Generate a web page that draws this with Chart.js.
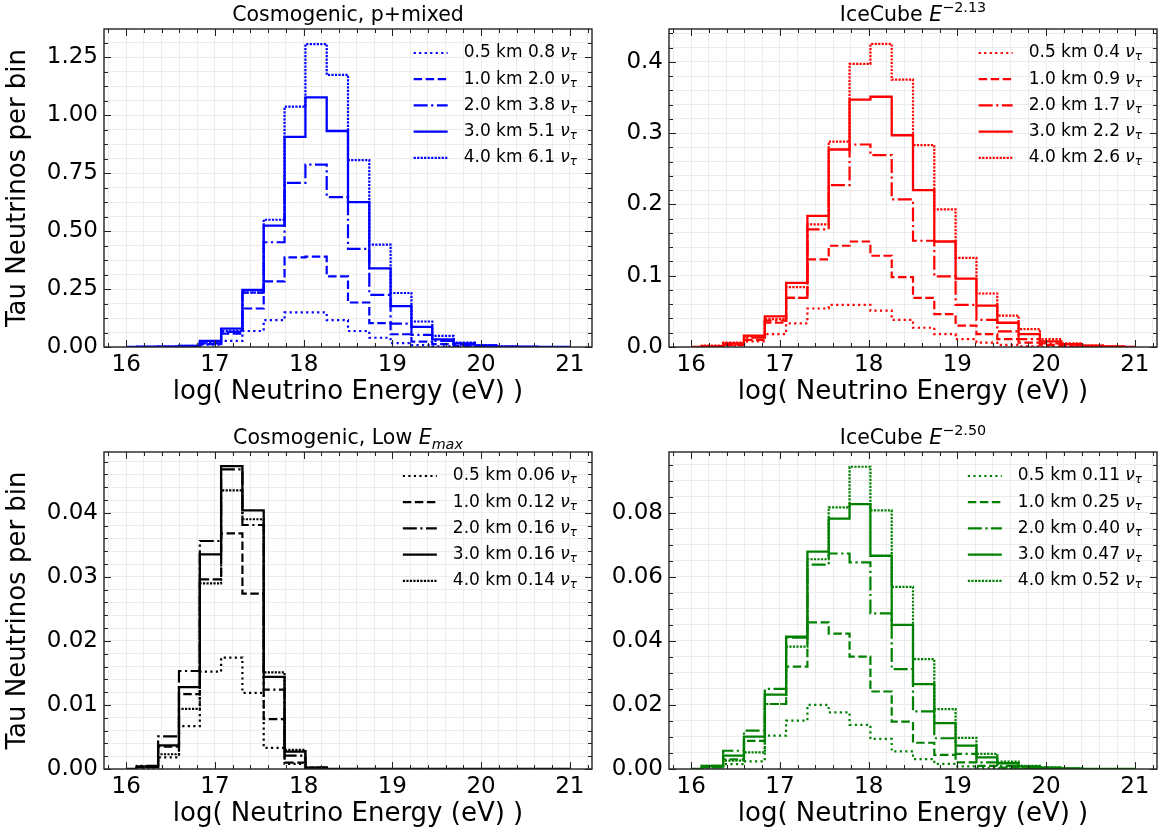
<!DOCTYPE html>
<html>
<head>
<meta charset="utf-8">
<script src="https://cdn.jsdelivr.net/npm/chart.js@4.4.1/dist/chart.umd.min.js"></script>
<style>
  html, body { margin: 0; padding: 0; background: #fff; }
  #fig { position: relative; width: 1162px; height: 835px; overflow: hidden; }
  canvas { position: absolute; }
</style>
</head>
<body>
<div id="fig">
  <canvas id="tl" width="600" height="418" style="left:0;top:0"></canvas>
  <canvas id="tr" width="562" height="418" style="left:600px;top:0"></canvas>
  <canvas id="bl" width="600" height="412" style="left:0;top:423px"></canvas>
  <canvas id="br" width="562" height="412" style="left:600px;top:423px"></canvas>
</div>
<script>
// bin centres, log10(E / eV)
const logE = [16.00, 16.24, 16.48, 16.71, 16.95, 17.19, 17.43, 17.67, 17.90, 18.14, 18.38,
              18.62, 18.86, 19.10, 19.33, 19.57, 19.81, 20.05, 20.29, 20.52, 20.76, 21.00];
const xTicks = [16, 17, 18, 19, 20, 21];
const depths = ["0.5 km", "1.0 km", "2.0 km", "3.0 km", "4.0 km"];

// Cosmogenic, p+mixed
const pmixed05 = [0, 0, 0, 0.002, 0.01, 0.026, 0.069, 0.116, 0.149, 0.149, 0.116, 0.069, 0.04, 0.017, 0.008, 0.003, 0.001, 0, 0, 0, 0, 0];
const pmixed10 = [0, 0, 0.001, 0.003, 0.012, 0.058, 0.166, 0.283, 0.387, 0.39, 0.305, 0.192, 0.103, 0.055, 0.023, 0.012, 0.005, 0.002, 0, 0, 0, 0];
const pmixed20 = [0, 0, 0.001, 0.004, 0.016, 0.065, 0.235, 0.452, 0.708, 0.787, 0.647, 0.423, 0.225, 0.101, 0.052, 0.026, 0.01, 0.004, 0.001, 0, 0, 0];
const pmixed30 = [0, 0.001, 0.002, 0.005, 0.026, 0.079, 0.246, 0.524, 0.907, 1.077, 0.932, 0.625, 0.339, 0.176, 0.087, 0.033, 0.016, 0.007, 0.002, 0.001, 0, 0];
const pmixed40 = [0, 0.001, 0.002, 0.005, 0.02, 0.069, 0.235, 0.549, 1.037, 1.307, 1.174, 0.806, 0.442, 0.233, 0.11, 0.048, 0.019, 0.008, 0.003, 0.001, 0, 0];
const pmixedTotals = ["0.8", "2.0", "3.8", "5.1", "6.1"];
const pmixedTicks = [0, 0.25, 0.5, 0.75, 1.0, 1.25];
const pmixedTickLabels = ["0.00", "0.25", "0.50", "0.75", "1.00", "1.25"];

// IceCube E^-2.13
const ic213_05 = [0, 0, 0.002, 0.008, 0.018, 0.033, 0.054, 0.059, 0.059, 0.051, 0.038, 0.027, 0.018, 0.011, 0.006, 0.003, 0.001, 0, 0, 0, 0, 0];
const ic213_10 = [0, 0.001, 0.003, 0.01, 0.034, 0.069, 0.123, 0.142, 0.148, 0.128, 0.098, 0.069, 0.046, 0.03, 0.018, 0.011, 0.006, 0.003, 0.001, 0, 0, 0];
const ic213_20 = [0, 0.001, 0.004, 0.013, 0.037, 0.069, 0.165, 0.227, 0.284, 0.269, 0.207, 0.149, 0.099, 0.059, 0.038, 0.022, 0.011, 0.005, 0.002, 0.001, 0, 0];
const ic213_30 = [0, 0.001, 0.005, 0.016, 0.043, 0.09, 0.184, 0.277, 0.347, 0.351, 0.297, 0.22, 0.148, 0.096, 0.058, 0.034, 0.018, 0.008, 0.004, 0.002, 0.001, 0];
const ic213_40 = [0, 0.002, 0.006, 0.015, 0.039, 0.084, 0.172, 0.288, 0.397, 0.425, 0.375, 0.283, 0.193, 0.125, 0.075, 0.044, 0.025, 0.011, 0.005, 0.002, 0.001, 0];
const ic213Totals = ["0.4", "0.9", "1.7", "2.2", "2.6"];
const ic213Ticks = [0, 0.1, 0.2, 0.3, 0.4];
const ic213TickLabels = ["0.0", "0.1", "0.2", "0.3", "0.4"];

// Cosmogenic, Low Emax
const lowE05 = [0, 0.0002, 0.0018, 0.0067, 0.0152, 0.0174, 0.0119, 0.0033, 0.0008, 0.0001, 0, 0, 0, 0, 0, 0, 0, 0, 0, 0, 0, 0];
const lowE10 = [0, 0.0003, 0.0035, 0.0117, 0.0296, 0.0368, 0.0274, 0.0078, 0.001, 0.0001, 0, 0, 0, 0, 0, 0, 0, 0, 0, 0, 0, 0];
const lowE20 = [0, 0.0005, 0.0051, 0.0153, 0.0356, 0.0468, 0.0381, 0.0124, 0.0021, 0.0002, 0, 0, 0, 0, 0, 0, 0, 0, 0, 0, 0, 0];
const lowE30 = [0, 0.0004, 0.0037, 0.0128, 0.0335, 0.0473, 0.0404, 0.0144, 0.0027, 0.0002, 0, 0, 0, 0, 0, 0, 0, 0, 0, 0, 0, 0];
const lowE40 = [0, 0.0003, 0.0023, 0.0094, 0.029, 0.0435, 0.039, 0.0151, 0.003, 0.0002, 0, 0, 0, 0, 0, 0, 0, 0, 0, 0, 0, 0];
const lowETotals = ["0.06", "0.12", "0.16", "0.16", "0.14"];
const lowETicks = [0, 0.01, 0.02, 0.03, 0.04];
const lowETickLabels = ["0.00", "0.01", "0.02", "0.03", "0.04"];

// IceCube E^-2.50
const ic250_05 = [0, 0.0005, 0.0015, 0.0024, 0.0104, 0.0151, 0.02, 0.0177, 0.0138, 0.0094, 0.0055, 0.0031, 0.0016, 0.0008, 0.0003, 0.0001, 0, 0, 0, 0, 0, 0];
const ic250_10 = [0, 0.0005, 0.003, 0.0088, 0.0203, 0.032, 0.0458, 0.0423, 0.0351, 0.0242, 0.0148, 0.0082, 0.0044, 0.0021, 0.001, 0.0004, 0.0002, 0, 0, 0, 0, 0];
const ic250_20 = [0, 0.001, 0.0057, 0.012, 0.025, 0.041, 0.0638, 0.0673, 0.0645, 0.0486, 0.0312, 0.018, 0.0096, 0.0047, 0.0021, 0.001, 0.0004, 0.0002, 0, 0, 0, 0];
const ic250_30 = [0, 0.001, 0.0042, 0.0101, 0.0232, 0.0413, 0.0679, 0.0782, 0.0827, 0.0666, 0.045, 0.0265, 0.0143, 0.0073, 0.0036, 0.0018, 0.0008, 0.0004, 0.0002, 0, 0, 0];
const ic250_40 = [0, 0.0008, 0.0026, 0.0052, 0.0203, 0.0382, 0.0655, 0.0817, 0.0944, 0.0808, 0.0569, 0.0343, 0.0187, 0.0097, 0.0047, 0.0023, 0.001, 0.0005, 0.0002, 0, 0, 0];
const ic250Totals = ["0.11", "0.25", "0.40", "0.47", "0.52"];
const ic250Ticks = [0, 0.02, 0.04, 0.06, 0.08];
const ic250TickLabels = ["0.00", "0.02", "0.04", "0.06", "0.08"];

const FONT = "DejaVu Sans";
const dashes = [[2.2, 3.3], [8.5, 3.5], [14, 3.5, 2.2, 3.5], [], [2.2, 1.3]];
const widths = [2.2, 2.2, 2.2, 2.3, 2.2];
const gridColour = "#ececec";

function minorTicks(min, max, step) {
  const out = [];
  for (let v = Math.ceil(min / step - 1e-9) * step; v <= max + 1e-9; v += step) {
    out.push({ value: Math.round(v * 1e7) / 1e7 });
  }
  return out;
}

function isOn(v, list) {
  return list.findIndex((t) => Math.abs(t - v) < 1e-7);
}

// draws text made of plain / italic / super / subscript pieces
function drawRich(ctx, parts, x, y, size, align) {
  const fontOf = (p) => (p.it ? "italic " : "") + (p.sup || p.sub ? size * 0.7 : size) + "px '" + FONT + "'";
  let total = 0;
  const widthsOf = parts.map((p) => { ctx.font = fontOf(p); const w = ctx.measureText(p.t).width; total += w; return w; });
  let cx = align === "center" ? x - total / 2 : x;
  ctx.textAlign = "left";
  parts.forEach((p, i) => {
    ctx.font = fontOf(p);
    const dy = p.sup ? -size * 0.42 : p.sub ? size * 0.25 : 0;
    ctx.fillText(p.t, cx, y + dy);
    cx += widthsOf[i];
  });
  return total;
}

function panelPlugin(cfg) {
  return {
    id: "panel_" + cfg.id,
    afterDraw(chart) {
      const ctx = chart.ctx;
      const a = chart.chartArea;
      const sx = chart.scales.x, sy = chart.scales.y;
      ctx.save();
      // frame
      ctx.strokeStyle = "#222";
      ctx.lineWidth = 1.4;
      ctx.strokeRect(a.left, a.top, a.right - a.left, a.bottom - a.top);
      // inward ticks on all four sides
      ctx.lineWidth = 1;
      ctx.beginPath();
      sx.ticks.forEach((t) => {
        const px = Math.round(sx.getPixelForValue(t.value)) + 0.5;
        const len = isOn(t.value, xTicks) >= 0 ? 7 : 4;
        ctx.moveTo(px, a.bottom); ctx.lineTo(px, a.bottom - len);
        ctx.moveTo(px, a.top); ctx.lineTo(px, a.top + len);
      });
      sy.ticks.forEach((t) => {
        const py = Math.round(sy.getPixelForValue(t.value)) + 0.5;
        const len = isOn(t.value, cfg.yTicks) >= 0 ? 7 : 4;
        ctx.moveTo(a.left, py); ctx.lineTo(a.left + len, py);
        ctx.moveTo(a.right, py); ctx.lineTo(a.right - len, py);
      });
      ctx.stroke();

      // title
      ctx.fillStyle = "#000";
      ctx.textBaseline = "alphabetic";
      drawRich(ctx, cfg.title, (a.left + a.right) / 2, a.top - 8, 20.5, "center");

      // legend
      const size = 17;
      ctx.textBaseline = "middle";
      const rows = depths.map((d, i) => [
        { t: d + " " + cfg.totals[i] + " " },
        { t: "\u03bd", it: true },
        { t: "\u03c4", it: true, sub: true },
      ]);
      let maxW = 0;
      rows.forEach((parts) => {
        let w = 0;
        parts.forEach((p) => {
          ctx.font = (p.it ? "italic " : "") + (p.sub ? size * 0.7 : size) + "px '" + FONT + "'";
          w += ctx.measureText(p.t).width;
        });
        maxW = Math.max(maxW, w);
      });
      const textX = a.right - 15 - maxW;
      rows.forEach((parts, i) => {
        const y = a.top + 24 + i * 26.2;
        ctx.strokeStyle = cfg.colour;
        ctx.lineWidth = widths[i];
        ctx.setLineDash(dashes[i]);
        ctx.beginPath();
        ctx.moveTo(textX - 50, y);
        ctx.lineTo(textX - 16, y);
        ctx.stroke();
        ctx.setLineDash([]);
        ctx.fillStyle = "#000";
        drawRich(ctx, parts, textX, y, size, "left");
      });
      ctx.restore();
    },
  };
}

function makeChart(cfg) {
  const datasets = cfg.series.map((vals, i) => ({
    label: depths[i] + " " + cfg.totals[i],
    data: vals.map((v, k) => ({ x: logE[k], y: v })),
    borderColor: cfg.colour,
    borderWidth: widths[i],
    borderDash: dashes[i],
    stepped: "middle",
    pointRadius: 0,
    fill: false,
    order: 5 - i,
  }));

  return new Chart(document.getElementById(cfg.id), {
    type: "line",
    data: { datasets },
    options: {
      animation: false,
      responsive: false,
      devicePixelRatio: 1,
      layout: { padding: { left: 0, right: cfg.padRight, top: 29, bottom: cfg.padBottom } },
      plugins: { legend: { display: false }, tooltip: { enabled: false } },
      scales: {
        x: {
          type: "linear",
          min: 15.75,
          max: 21.25,
          afterBuildTicks: (s) => { s.ticks = minorTicks(15.75, 21.25, 0.2); },
          afterFit: (s) => { s.height = 66; },
          grid: { color: gridColour, drawTicks: false },
          border: { display: false },
          ticks: {
            autoSkip: false,
            maxRotation: 0,
            padding: 4,
            color: "#000",
            font: { family: FONT, size: 23 },
            callback: (v) => { const j = isOn(v, xTicks); return j >= 0 ? String(xTicks[j]) : ""; },
          },
          title: {
            display: true,
            text: "log( Neutrino Energy (eV) )",
            color: "#000",
            font: { family: FONT, size: 26 },
            padding: { top: 0, bottom: 5 },
          },
        },
        y: {
          type: "linear",
          min: 0,
          max: cfg.ymax,
          afterBuildTicks: (s) => { s.ticks = minorTicks(0, cfg.ymax, cfg.yMinor); },
          afterFit: (s) => { s.width = cfg.yWidth; },
          grid: { color: gridColour, drawTicks: false },
          border: { display: false },
          ticks: {
            autoSkip: false,
            padding: 6,
            color: "#000",
            font: { family: FONT, size: 23 },
            callback: (v) => { const j = isOn(v, cfg.yTicks); return j >= 0 ? cfg.yTickLabels[j] : ""; },
          },
          title: {
            display: cfg.yTitle,
            text: "Tau Neutrinos per bin",
            color: "#000",
            font: { family: FONT, size: 26 },
            padding: { top: 3, bottom: 0 },
          },
        },
      },
    },
    plugins: [panelPlugin(cfg)],
  });
}

makeChart({
  id: "tl", colour: "#0000ff",
  series: [pmixed05, pmixed10, pmixed20, pmixed30, pmixed40], totals: pmixedTotals,
  ymax: 1.372, yMinor: 0.0625, yTicks: pmixedTicks, yTickLabels: pmixedTickLabels,
  yTitle: true, yWidth: 104, padRight: 8, padBottom: 5,
  title: [{ t: "Cosmogenic, p+mixed" }],
});

makeChart({
  id: "tr", colour: "#ff0000",
  series: [ic213_05, ic213_10, ic213_20, ic213_30, ic213_40], totals: ic213Totals,
  ymax: 0.446, yMinor: 0.02, yTicks: ic213Ticks, yTickLabels: ic213TickLabels,
  yTitle: false, yWidth: 69, padRight: 5, padBottom: 5,
  title: [{ t: "IceCube " }, { t: "E", it: true }, { t: "\u22122.13", sup: true }],
});

makeChart({
  id: "bl", colour: "#000000",
  series: [lowE05, lowE10, lowE20, lowE30, lowE40], totals: lowETotals,
  ymax: 0.0495, yMinor: 0.002, yTicks: lowETicks, yTickLabels: lowETickLabels,
  yTitle: true, yWidth: 104, padRight: 8, padBottom: 0,
  title: [{ t: "Cosmogenic, Low " }, { t: "E", it: true }, { t: "max", it: true, sub: true }],
});

makeChart({
  id: "br", colour: "#008000",
  series: [ic250_05, ic250_10, ic250_20, ic250_30, ic250_40], totals: ic250Totals,
  ymax: 0.099, yMinor: 0.005, yTicks: ic250Ticks, yTickLabels: ic250TickLabels,
  yTitle: false, yWidth: 69, padRight: 5, padBottom: 0,
  title: [{ t: "IceCube " }, { t: "E", it: true }, { t: "\u22122.50", sup: true }],
});
</script>
</body>
</html>
